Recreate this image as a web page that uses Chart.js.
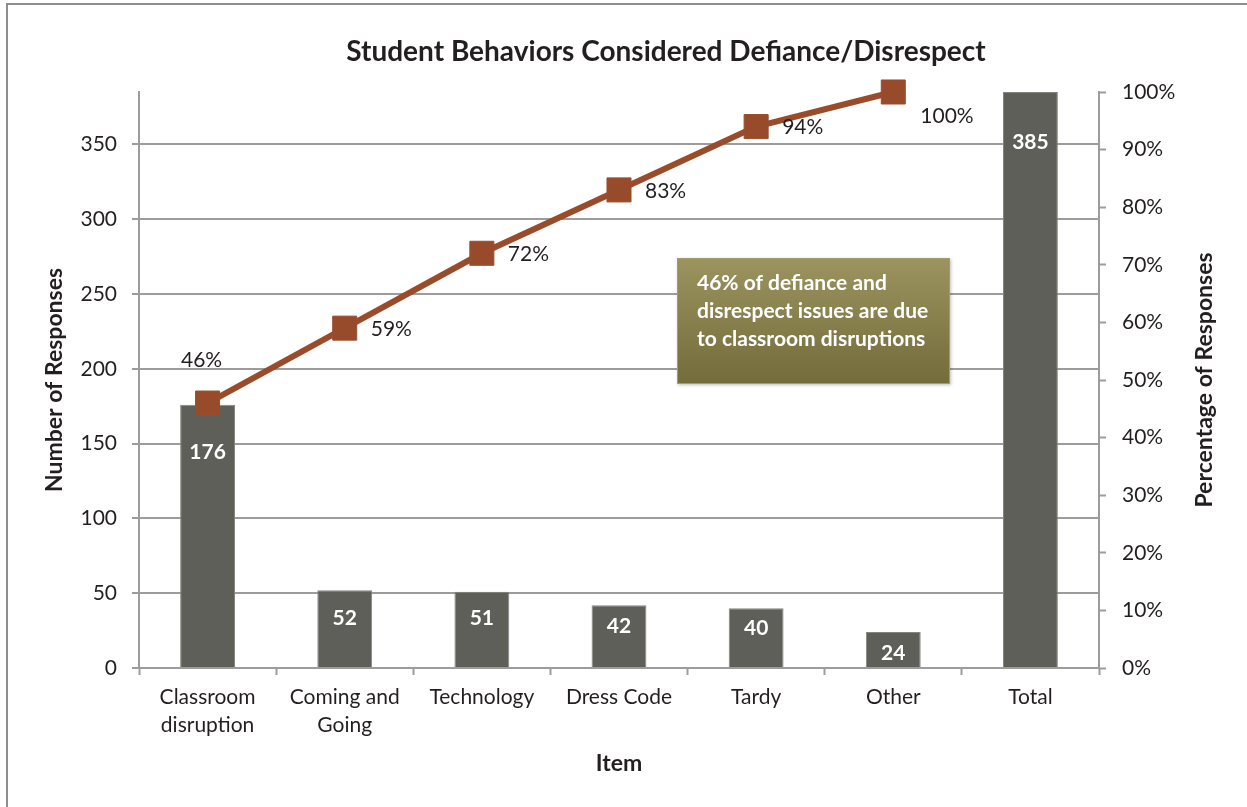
<!DOCTYPE html>
<html>
<head>
<meta charset="utf-8">
<script src="https://cdn.jsdelivr.net/npm/chart.js@4.4.1/dist/chart.umd.min.js"></script>
<style>
    html, body { margin: 0; padding: 0; background: #fff; overflow: hidden; }
    #wrap { position: relative; width: 1247px; height: 807px; }
    #frame {
        position: absolute; left: 6px; top: 3px; width: 1400px; height: 900px;
        border-left: 2px solid #8e8e8e; border-top: 2px solid #8e8e8e;
        pointer-events: none;
    }
    canvas { position: absolute; left: 0; top: 0; }
</style>
</head>
<body>
<div id="wrap">
    <canvas id="pareto" width="1247" height="807"></canvas>
    <div id="frame"></div>
</div>
<script>
// Chart data
const categories = [['Classroom', 'disruption'], ['Coming and', 'Going'], 'Technology', 'Dress Code', 'Tardy', 'Other', 'Total'];
const responseCounts = [176, 52, 51, 42, 40, 24, 385];
const cumulativePercent = [46, 59, 72, 83, 94, 100];
const countTicks = [0, 50, 100, 150, 200, 250, 300, 350];
const percentTicks = [0, 10, 20, 30, 40, 50, 60, 70, 80, 90, 100];
const noteLines = ['46% of defiance and', 'disrespect issues are due', 'to classroom disruptions'];

// Label placement tweaks
const barLabelDrop = [48, 28, 27, 21, 20, 21, 50];
const lineLabelSide = ['above', 'right', 'right', 'right', 'right', 'belowRight'];

const TEXT = '#231f20';
const GRID = '#9c9c9c';
const FONT = 'Lato';

Chart.defaults.font.family = FONT;
Chart.defaults.color = TEXT;

// Draws title, value labels, the note box and right axis title
const extrasPlugin = {
    id: 'extras',
    afterDatasetsDraw(chart) {
        const ctx = chart.ctx;
        const area = chart.chartArea;

        // bar value labels
        const barMeta = chart.getDatasetMeta(1);
        ctx.save();
        ctx.fillStyle = '#ffffff';
        ctx.font = 'bold 21px ' + FONT;
        ctx.textAlign = 'center';
        ctx.textBaseline = 'middle';
        barMeta.data.forEach((bar, i) => {
            ctx.fillText(String(responseCounts[i]), bar.x, bar.y + barLabelDrop[i]);
        });
        ctx.restore();

        // note box
        const bx = area.left + 538, by = area.top + 166, bw = 273, bh = 126;
        ctx.save();
        ctx.shadowColor = 'rgba(0,0,0,0.25)';
        ctx.shadowBlur = 3;
        ctx.shadowOffsetX = 1;
        ctx.shadowOffsetY = 1;
        const grad = ctx.createLinearGradient(0, by, 0, by + bh);
        grad.addColorStop(0, '#9b945f');
        grad.addColorStop(1, '#736c3b');
        ctx.fillStyle = grad;
        ctx.fillRect(bx, by, bw, bh);
        ctx.restore();
        ctx.save();
        ctx.strokeStyle = '#a39d6c';
        ctx.lineWidth = 1;
        ctx.strokeRect(bx + 0.5, by + 0.5, bw - 1, bh - 1);
        ctx.fillStyle = '#ffffff';
        ctx.font = 'bold 21px ' + FONT;
        ctx.textAlign = 'left';
        ctx.textBaseline = 'middle';
        noteLines.forEach((line, i) => {
            ctx.fillText(line, bx + 20, by + 25 + i * 28);
        });
        ctx.restore();
    },
    afterDraw(chart) {
        const ctx = chart.ctx;
        const area = chart.chartArea;

        // cumulative percent labels
        const lineMeta = chart.getDatasetMeta(0);
        ctx.save();
        ctx.fillStyle = TEXT;
        ctx.font = '21px ' + FONT;
        ctx.textBaseline = 'middle';
        lineMeta.data.forEach((pt, i) => {
            const txt = cumulativePercent[i] + '%';
            const side = lineLabelSide[i];
            if (side === 'above') {
                ctx.textAlign = 'center';
                ctx.fillText(txt, pt.x - 6, pt.y - 43);
            } else if (side === 'belowRight') {
                ctx.textAlign = 'left';
                ctx.fillText(txt, pt.x + 27, pt.y + 24);
            } else {
                ctx.textAlign = 'left';
                ctx.fillText(txt, pt.x + 26, pt.y + 1);
            }
        });
        ctx.restore();

        // chart title
        ctx.save();
        ctx.fillStyle = TEXT;
        ctx.font = 'bold 28px ' + FONT;
        ctx.textAlign = 'center';
        ctx.textBaseline = 'middle';
        ctx.fillText('Student Behaviors Considered Defiance/Disrespect', 666, 52);
        ctx.restore();

        // right axis title, reading bottom to top
        ctx.save();
        ctx.fillStyle = TEXT;
        ctx.font = 'bold 23px ' + FONT;
        ctx.textAlign = 'center';
        ctx.textBaseline = 'middle';
        ctx.translate(area.right + 106, (area.top + area.bottom) / 2);
        ctx.rotate(-Math.PI / 2);
        ctx.fillText('Percentage of Responses', 0, 0);
        ctx.restore();
    }
};

function start() {
    const ctx = document.getElementById('pareto').getContext('2d');
    new Chart(ctx, {
        data: {
            labels: categories,
            datasets: [{
                type: 'line',
                label: 'Cumulative percent',
                data: cumulativePercent,
                yAxisID: 'y1',
                order: 0,
                clip: false,
                borderColor: '#9a4b29',
                borderWidth: 6,
                tension: 0,
                pointStyle: 'rect',
                pointRadius: 17,
                pointBackgroundColor: '#974b2b',
                pointBorderColor: '#9a4f2f',
                pointBorderWidth: 1
            }, {
                type: 'bar',
                label: 'Number of responses',
                data: responseCounts,
                yAxisID: 'y',
                order: 1,
                backgroundColor: '#5f5f5a',
                borderColor: '#85857f',
                borderWidth: 1,
                categoryPercentage: 1,
                barPercentage: 0.4
            }]
        },
        options: {
            responsive: false,
            animation: false,
            devicePixelRatio: 1,
            layout: { padding: { top: 92, left: 0, right: 0, bottom: 0 } },
            plugins: {
                legend: { display: false },
                tooltip: { enabled: false },
                title: { display: false }
            },
            scales: {
                x: {
                    type: 'category',
                    offset: true,
                    afterFit(axis) { axis.height = 139; },
                    grid: {
                        offset: true,
                        drawOnChartArea: false,
                        drawTicks: true,
                        tickLength: 7,
                        tickColor: GRID,
                        tickWidth: 2
                    },
                    border: { color: GRID, width: 2 },
                    ticks: {
                        color: TEXT,
                        font: { size: 21, lineHeight: 1.35 },
                        padding: 8,
                        maxRotation: 0,
                        autoSkip: false
                    },
                    title: {
                        display: true,
                        text: 'Item',
                        color: TEXT,
                        font: { size: 23, weight: 'bold', lineHeight: 1.2 },
                        padding: { top: 0, bottom: 30 }
                    }
                },
                y: {
                    position: 'left',
                    min: 0,
                    max: responseCounts[responseCounts.length - 1],
                    afterFit(axis) { axis.width = 139; },
                    afterBuildTicks(axis) { axis.ticks = countTicks.map(v => ({ value: v })); },
                    grid: {
                        color: GRID,
                        lineWidth: 2,
                        drawTicks: true,
                        tickLength: 7,
                        tickColor: GRID,
                        tickWidth: 2
                    },
                    border: { color: GRID, width: 2 },
                    ticks: {
                        color: TEXT,
                        font: { size: 21 },
                        padding: 15
                    },
                    title: {
                        display: true,
                        text: 'Number of Responses',
                        color: TEXT,
                        font: { size: 23, weight: 'bold', lineHeight: 1.2 },
                        padding: { top: 41, bottom: 0 }
                    }
                },
                y1: {
                    position: 'right',
                    min: 0,
                    max: 100,
                    afterFit(axis) { axis.width = 148; },
                    afterBuildTicks(axis) { axis.ticks = percentTicks.map(v => ({ value: v })); },
                    grid: {
                        drawOnChartArea: false,
                        drawTicks: true,
                        tickLength: 7,
                        tickColor: GRID,
                        tickWidth: 2
                    },
                    border: { color: GRID, width: 2 },
                    ticks: {
                        color: TEXT,
                        font: { size: 21 },
                        padding: 16,
                        callback: v => v + '%'
                    }
                }
            }
        },
        plugins: [extrasPlugin]
    });
}

window.addEventListener('load', start, false);
</script>
</body>
</html>
